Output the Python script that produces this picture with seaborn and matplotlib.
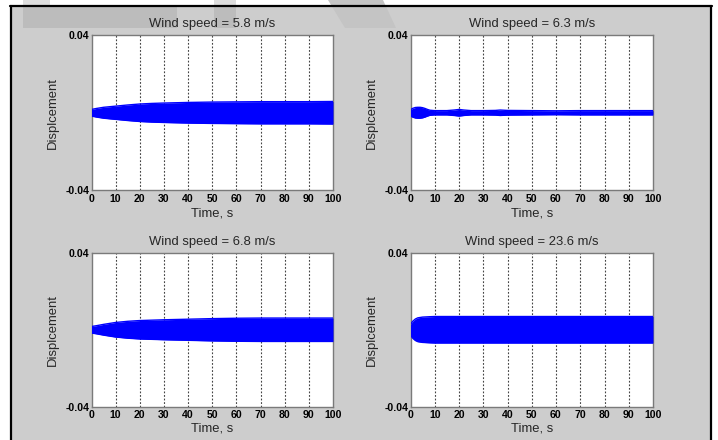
import numpy as np
import matplotlib
matplotlib.use("Agg")
import matplotlib.pyplot as plt
import seaborn as sns
from matplotlib.patches import Rectangle, Polygon
from matplotlib.lines import Line2D

# ---- data (envelope of the dense oscillation) ----
titles = ["Wind speed = 5.8 m/s", "Wind speed = 6.3 m/s",
          "Wind speed = 6.8 m/s", "Wind speed = 23.6 m/s"]

t_58 = [0, 2, 5, 10, 15, 20, 25, 30, 40, 50, 60, 70, 80, 90, 100]
amp_58 = [0.0017, 0.0022, 0.0028, 0.0034, 0.0040, 0.0045, 0.0048, 0.0050,
          0.0053, 0.0055, 0.0056, 0.0057, 0.0057, 0.0057, 0.0058]

t_63 = [0, 1, 2, 3, 4, 5, 6, 7, 8, 10, 15, 18, 20, 22, 25, 30, 35, 37, 40,
        50, 60, 70, 80, 90, 100]
amp_63 = [0.0016, 0.0023, 0.0027, 0.0028, 0.0028, 0.0026, 0.0022, 0.0017,
          0.0013, 0.0011, 0.0011, 0.0014, 0.0017, 0.0014, 0.0011, 0.0011,
          0.0012, 0.0014, 0.0012, 0.0011, 0.0010, 0.0011, 0.0011, 0.0011,
          0.0011]

t_68 = [0, 2, 5, 10, 15, 20, 30, 40, 50, 60, 70, 80, 90, 100]
amp_68 = [0.0017, 0.0021, 0.0028, 0.0038, 0.0044, 0.0048, 0.0052, 0.0055,
          0.0058, 0.0060, 0.0061, 0.0061, 0.0061, 0.0061]

t_236 = [0, 0.5, 1, 2, 3, 5, 8, 10, 25, 100]
amp_236 = [0.0026, 0.0037, 0.0045, 0.0056, 0.0062, 0.0066, 0.0068, 0.0069,
           0.0069, 0.0069]

series_t = [t_58, t_63, t_68, t_236]
series_amp = [amp_58, amp_63, amp_68, amp_236]

x_ticks = [0, 10, 20, 30, 40, 50, 60, 70, 80, 90, 100]
y_ticks = [-0.04, 0.04]
y_ticklabels = ["-0.04", "0.04"]

# ---- style ----
sns.set_style("white")
plt.rcParams["font.family"] = ["Liberation Sans", "DejaVu Sans"]

W, H = 718, 440
fig = plt.figure(figsize=(W / 100, H / 100), dpi=100)
fig.patch.set_facecolor("white")


def fx(x):
    return x / W


def fy(y):
    return 1 - y / H


# gray panel background with black frame
fig.patches.append(Rectangle((fx(11), 0), fx(711) - fx(11), fy(6),
                             transform=fig.transFigure, facecolor="#cdcdcd",
                             edgecolor="none", zorder=-2))
for (x0, y0, x1, y1) in [(10, 6, 712, 6), (11, 6, 11, 440), (711, 6, 711, 440)]:
    fig.lines.append(Line2D([fx(x0), fx(x1)], [fy(y0), fy(y1)],
                            transform=fig.transFigure, color="black",
                            lw=1.6, zorder=-1))

# faint watermark shapes at the top
wm = [
    ([(23, 7), (177, 7), (177, 28), (23, 28)], "#bcbcbc"),
    ([(23, 0), (50, 0), (50, 5), (23, 5)], "#dddddd"),
    ([(214, 7), (236, 7), (236, 28), (214, 28)], "#bcbcbc"),
    ([(214, 0), (236, 0), (236, 5), (214, 5)], "#dddddd"),
    ([(328, 0), (383, 0), (396, 28), (345, 28)], "#c4c4c4"),
]
for pts, col in wm:
    fig.patches.append(Polygon([(fx(a), fy(b)) for a, b in pts], closed=True,
                               transform=fig.transFigure, facecolor=col,
                               edgecolor="none", zorder=-1.5))

positions = [
    (91.5, 35, 333, 190.5),
    (410.5, 35, 653, 190.5),
    (91.5, 253, 333, 406.5),
    (410.5, 253, 653, 406.5),
]

for i, (l, t, r, b) in enumerate(positions):
    ax = fig.add_axes([fx(l), fy(b), fx(r) - fx(l), fy(t) - fy(b)])
    ax.set_facecolor("white")
    tt = np.array(series_t[i], dtype=float)
    aa = np.array(series_amp[i], dtype=float)
    ax.fill_between(tt, -aa, aa, color="#0000ff", lw=0, zorder=3)
    sns.lineplot(x=tt, y=aa, ax=ax, color="#0000ff", lw=1.0, zorder=3)
    sns.lineplot(x=tt, y=-aa, ax=ax, color="#0000ff", lw=1.0, zorder=3)

    ax.set_xlim(0, 100)
    ax.set_ylim(-0.04, 0.04)
    ax.set_xticks(x_ticks)
    ax.set_xticklabels([str(v) for v in x_ticks], fontweight="bold", fontsize=7.6)
    ax.set_yticks(y_ticks)
    ax.set_yticklabels(y_ticklabels, fontweight="bold", fontsize=7.6)
    ax.tick_params(axis="both", length=0, pad=2.5, colors="black")
    ax.tick_params(axis="y", pad=1.5)
    for v in x_ticks[1:-1]:
        ax.axvline(v, color="#444444", lw=0.8, ls=(0, (1.6, 1.6)), zorder=2)
    for sp in ax.spines.values():
        sp.set_color("#7a7a7a")
        sp.set_linewidth(1.0)
        sp.set_visible(True)

    ax.set_title(titles[i], fontsize=9.4, pad=6)
    ax.set_xlabel("Time, s", fontsize=9.4)
    ax.set_ylabel("Displcement", fontsize=9.4)
    ax.xaxis.set_label_coords(0.5, -0.145)
    ax.yaxis.set_label_coords(-0.158, 0.5)
    ax.xaxis.label.set_va("center")
    ax.yaxis.label.set_va("center")

fig.savefig("out.png", dpi=100, facecolor=fig.get_facecolor())
